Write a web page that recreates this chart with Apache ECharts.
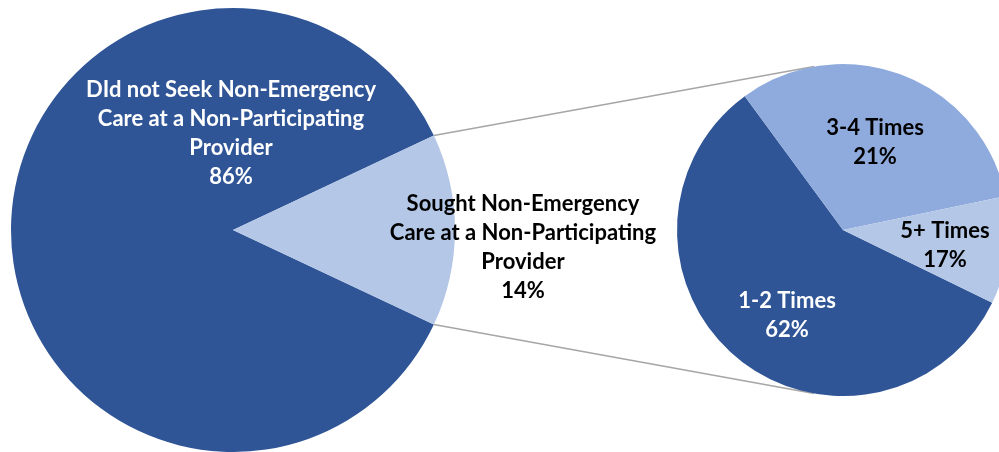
<!DOCTYPE html>
<html>
<head>
<meta charset="utf-8">
<script src="https://cdn.jsdelivr.net/npm/echarts@6/dist/echarts.min.js"></script>
<style>
html,body{margin:0;padding:0;background:#fff;}
#chart{width:999px;height:452px;}
</style>
</head>
<body>
<div id="chart"></div>
<script>
// ---- data ----
var mainCategories = ['DId not Seek Non-Emergency\nCare at a Non-Participating\nProvider', 'Sought Non-Emergency\nCare at a Non-Participating\nProvider'];
var mainValues = [86, 14];
var mainLabels = ['86%', '14%'];

var subCategories = ['1-2 Times', '3-4 Times', '5+ Times'];
var subSliceShares = [57.7, 31.8, 10.5];   // slice sizes as drawn in the picture
var subLabels = ['62%', '21%', '17%'];     // percentages printed on the slices

// ---- layout / style ----
var DARK = '#2F5597', LIGHT = '#B4C7E7', MID = '#8FAADC';
var FONT = 'Lato';
var mainCenter = [233, 230], mainR = 222;
var subCenter = [843, 230], subR = 166;

var mainColors = [DARK, LIGHT];
var mainTextColors = ['#ffffff', '#000000'];
var subColors = [DARK, MID, LIGHT];
var subTextColors = ['#ffffff', '#000000', '#000000'];

// label offsets from the pie centre
var mainLabelOffsets = [[-2, -97], [290, 17]];
var subLabelOffsets = [[-56, 85], [32, -88], [102, 15]];

var mainTotal = mainValues.reduce(function(a, b){return a + b;}, 0);
var halfAngle = mainValues[1] / mainTotal * 360 / 2;

function mkData(cats, vals, labels, colors, textColors) {
  return cats.map(function(c, i){
    return {
      name: c, value: vals[i],
      itemStyle: {color: colors[i]},
      label: {color: textColors[i], formatter: c + '\n' + labels[i]}
    };
  });
}

function rad(d){return d * Math.PI / 180;}
var topStart = [mainCenter[0] + mainR * Math.cos(rad(halfAngle)), mainCenter[1] - mainR * Math.sin(rad(halfAngle))];
var botStart = [mainCenter[0] + mainR * Math.cos(rad(-halfAngle)), mainCenter[1] - mainR * Math.sin(rad(-halfAngle))];
var topEnd = [subCenter[0] + subR * Math.cos(rad(100)), subCenter[1] - subR * Math.sin(rad(100))];
var botEnd = [subCenter[0] + subR * Math.cos(rad(260)), subCenter[1] - subR * Math.sin(rad(260))];

var labelStyle = {
  show: true, position: 'inside', fontFamily: FONT, fontWeight: 'bold',
  fontSize: 22, lineHeight: 29, align: 'center', verticalAlign: 'middle'
};

var chart = echarts.init(document.getElementById('chart'), null, {renderer: 'canvas'});
chart.setOption({
  animation: false,
  backgroundColor: '#ffffff',
  graphic: [
    {type: 'line', z: 0, shape: {x1: topStart[0], y1: topStart[1], x2: topEnd[0], y2: topEnd[1]}, style: {stroke: '#A6A6A6', lineWidth: 1.5}},
    {type: 'line', z: 0, shape: {x1: botStart[0], y1: botStart[1], x2: botEnd[0], y2: botEnd[1]}, style: {stroke: '#A6A6A6', lineWidth: 1.5}}
  ],
  series: [
    {
      type: 'pie', center: mainCenter, radius: mainR, startAngle: -halfAngle, clockwise: true,
      avoidLabelOverlap: false, silent: true, z: 2,
      itemStyle: {borderWidth: 0},
      label: labelStyle, labelLine: {show: false},
      labelLayout: function(p){
        var o = mainLabelOffsets[p.dataIndex];
        return {x: mainCenter[0] + o[0], y: mainCenter[1] + o[1], align: 'center', verticalAlign: 'middle'};
      },
      data: mkData(mainCategories, mainValues, mainLabels, mainColors, mainTextColors)
    },
    {
      type: 'pie', center: subCenter, radius: subR, startAngle: -26, clockwise: true,
      avoidLabelOverlap: false, silent: true, z: 2,
      itemStyle: {borderWidth: 0},
      label: labelStyle, labelLine: {show: false},
      labelLayout: function(p){
        var o = subLabelOffsets[p.dataIndex];
        return {x: subCenter[0] + o[0], y: subCenter[1] + o[1], align: 'center', verticalAlign: 'middle'};
      },
      data: mkData(subCategories, subSliceShares, subLabels, subColors, subTextColors)
    }
  ]
});
</script>
</body>
</html>
